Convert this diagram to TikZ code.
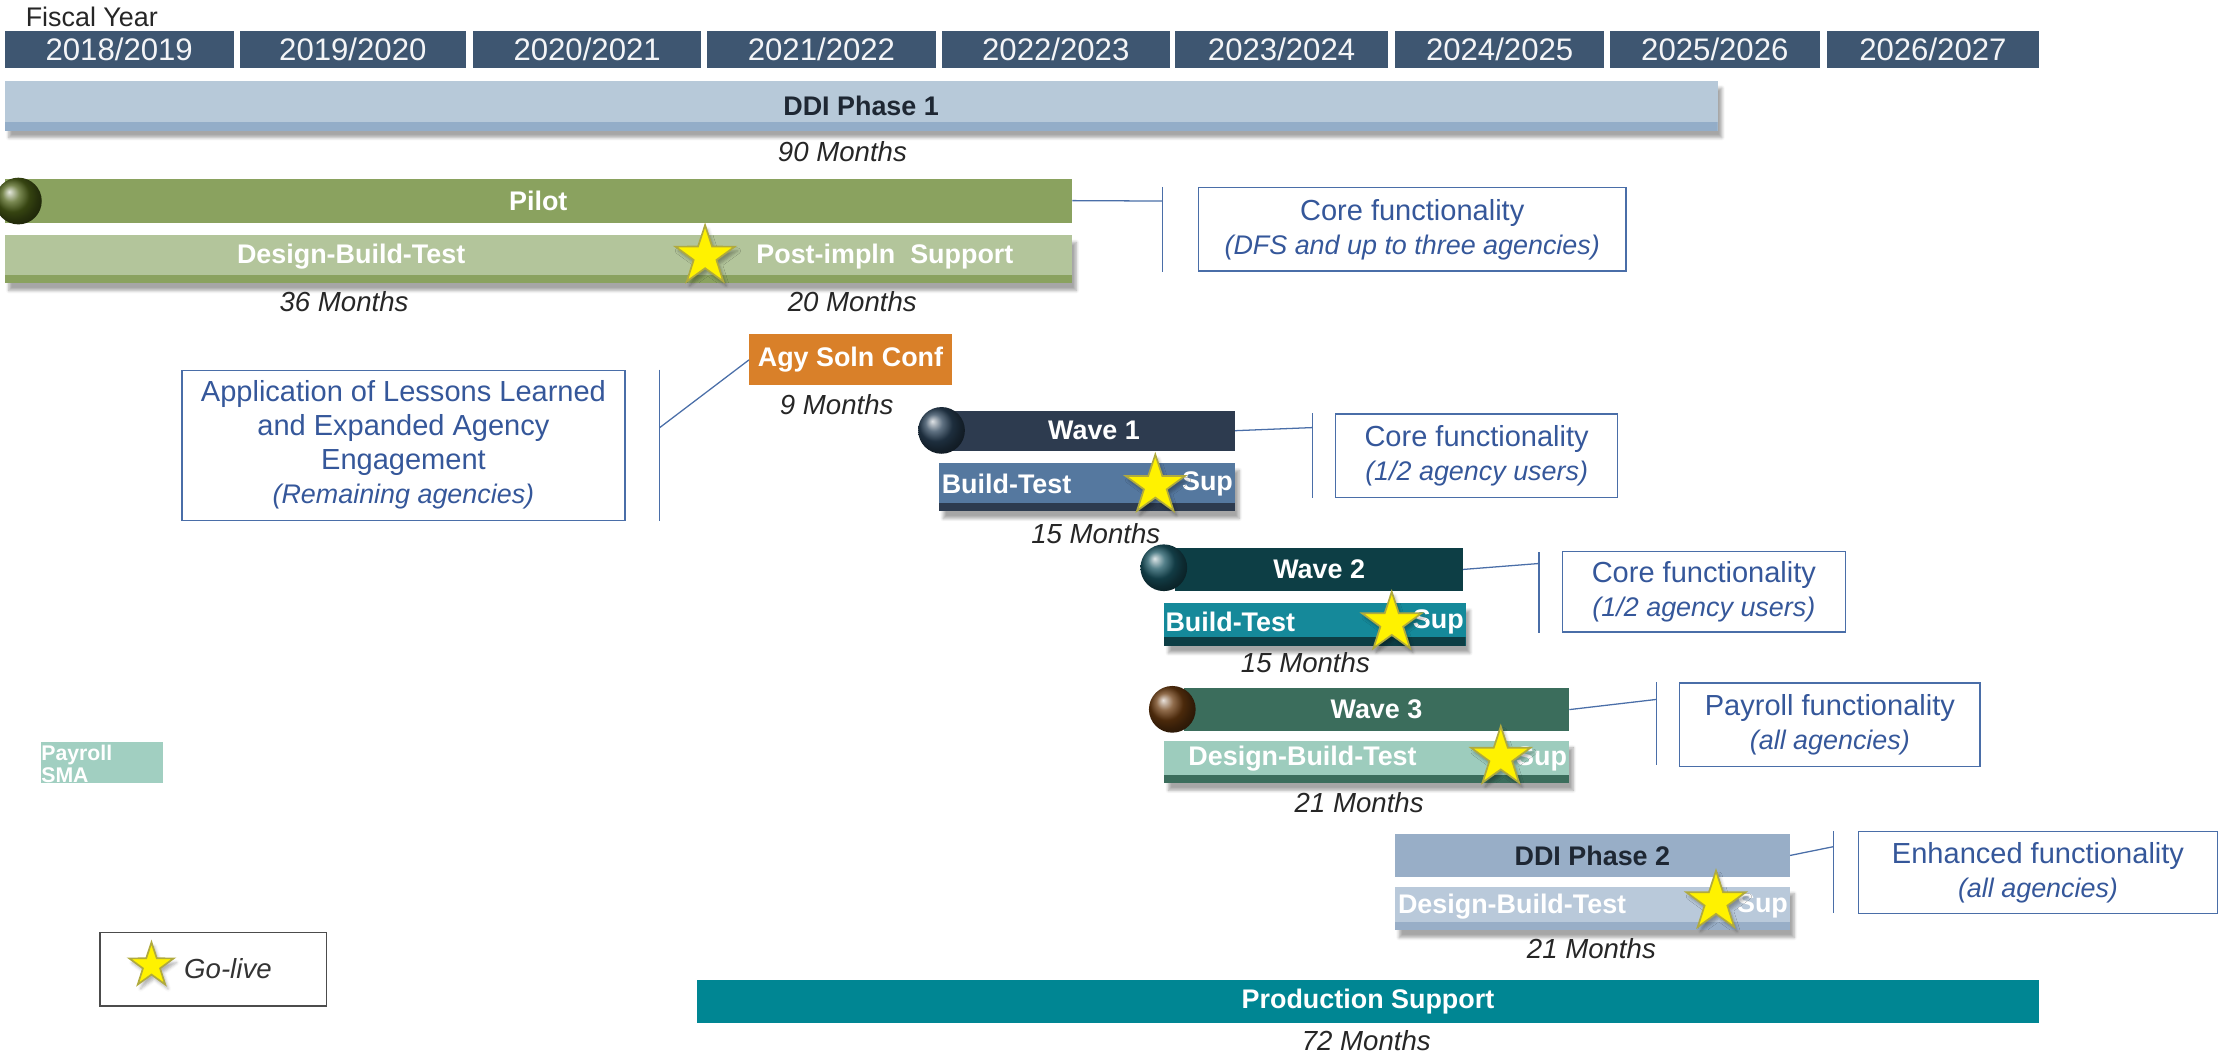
\documentclass[tikz,border=0pt]{standalone}
\usepackage{fontspec}
\setmainfont{Liberation Sans}
\usepackage{xcolor}
\usepackage{tikz}
\usetikzlibrary{positioning, shapes.geometric, shadows.blur}

\definecolor{yearblue}{HTML}{3E5671}
\definecolor{ddi}{HTML}{B7C9D9}
\definecolor{ddidark}{HTML}{93ADC8}
\definecolor{pilotgreen}{HTML}{8AA25F}
\definecolor{pilotball}{HTML}{4D6118}
\definecolor{pilotlight}{HTML}{B3C59B}
\definecolor{agyorange}{HTML}{D98029}
\definecolor{wdarkA}{HTML}{2D3B4F}
\definecolor{wballA}{HTML}{2A4258}
\definecolor{wmidA}{HTML}{55789F}
\definecolor{wdarkB}{HTML}{0D3E45}
\definecolor{wballB}{HTML}{1A5562}
\definecolor{wmidB}{HTML}{15899A}
\definecolor{wdarkC}{HTML}{3B6D5C}
\definecolor{wballC}{HTML}{6B3B10}
\definecolor{wmidC}{HTML}{9DCCBD}
\definecolor{ddiB}{HTML}{98AEC7}
\definecolor{ddiBlight}{HTML}{B9C9DA}
\definecolor{prodteal}{HTML}{008693}
\definecolor{payroll}{HTML}{A1CFC1}
\definecolor{noteblue}{HTML}{4A6EA8}
\definecolor{notetext}{HTML}{35579A}
\definecolor{darktxt}{HTML}{1E2733}

\newcommand{\subtxt}[1]{{\fontsize{19}{24}\selectfont\itshape #1}}

\tikzset{
	yearbox/.style={anchor=north west, inner sep=0pt, fill=yearblue, text=white!94!yearblue,
		minimum height=26, font=\fontsize{22}{22}\selectfont},
	tbar/.style={anchor=north west, inner sep=0pt, fill=#1, text=white,
		font=\fontsize{19}{19}\selectfont\bfseries},
	sbar/.style 2 args={tbar=#1,
		blur shadow={shadow xshift=3pt, shadow yshift=-5pt, shadow blur steps=6, shadow opacity=35},
		path picture={\fill[#2] ([yshift=6pt]path picture bounding box.south west)
			rectangle (path picture bounding box.south east);}},
	bartxt/.style={inner sep=1pt, text=white, font=\fontsize{19}{19}\selectfont\bfseries},
	orb/.style={circle, inner sep=0pt, minimum size=33, ball color=#1},
	gostar/.style={star, star points=5, star point ratio=2.6, inner sep=0pt, minimum size=44,
		fill=yellow, draw=yellow!65!black, line width=1.2pt,
		blur shadow={shadow xshift=2pt, shadow yshift=-3pt, shadow blur steps=4, shadow opacity=30}},
	months/.style={inner sep=0pt, text=black!85, font=\fontsize{19.5}{19.5}\selectfont\itshape},
	notebox/.style={anchor=north west, inner sep=0pt, draw=noteblue, line width=0.9pt,
		text=notetext, align=center, font=\fontsize{20.5}{24}\selectfont},
	bracket/.style={draw=noteblue, line width=0.9pt}
}

\begin{document}
\begin{tikzpicture}[x=1pt, y=-1pt]
	\useasboundingbox (0,0) rectangle (1568,743);
	
	% Fiscal year header
	\node[anchor=west, inner sep=0pt, text=black!85, font=\fontsize{19}{19}\selectfont] (fy) at (18,12) {Fiscal Year};
	\foreach \a/\b [count=\i from 0] in {3/165, 169/329, 334/495, 499/661, 665/826, 830/980, 985/1133, 1137/1285, 1290/1440}{
		\pgfmathtruncatemacro\ya{2018+\i}
		\pgfmathtruncatemacro\yb{2019+\i}
		\node[yearbox, minimum width={\b-\a}] (yr\i) at (\a,22) {\ya/\yb};
	}
	
	% DDI Phase 1
	\node[sbar={ddi}{ddidark}, text=darktxt, minimum width=1210, minimum height=35] (ddiA) at (3,57) {DDI Phase 1};
	\node[months] (mA) at (595,107) {90 Months};
	
	% Pilot
	\node[tbar=pilotgreen, minimum width=754, minimum height=31] (pilot) at (3,126) {Pilot};
	\node[orb=pilotball] (pball) at (13,142) {};
	\node[sbar={pilotlight}{pilotgreen}, minimum width=754, minimum height=34] (psub) at (3,166) {};
	\node[bartxt] (psubA) at (248,181) {Design-Build-Test};
	\node[bartxt] (psubB) at (625,181) {Post-impln\ \ Support};
	\node[gostar] (pstar) at (498,181) {};
	\node[months] (mB) at (243,213) {36 Months};
	\node[months] (mC) at (602,213) {20 Months};
	
	\node[notebox, minimum width=302, minimum height=59] (noteA) at (846,132)
		{Core functionality\\\subtxt{(DFS and up to three agencies)}};
	\coordinate (kAa) at (821,132);
	\coordinate (kAb) at (821,192);
	\coordinate (kA) at (821,142);
	\draw[bracket] (kAa) -- (kAb);
	\draw[bracket] (pilot.east) -- (kA);
	
	% Agency solution configuration
	\node[tbar=agyorange, minimum width=143, minimum height=36] (agy) at (529,236) {Agy Soln Conf};
	\node[months] (mD) at (591,286) {9 Months};
	\node[notebox, minimum width=313, minimum height=106] (noteB) at (128,261)
		{Application of Lessons Learned\\and Expanded Agency\\Engagement\\\subtxt{(Remaining agencies)}};
	\coordinate (kBa) at (466,261);
	\coordinate (kBb) at (466,368);
	\coordinate (kB) at (466,302);
	\draw[bracket] (kBa) -- (kBb);
	\draw[bracket] (kB) -- (agy.west);
	
	% Wave 1
	\node[tbar=wdarkA, minimum width=199, minimum height=28] (wA) at (673,290) {Wave 1};
	\node[orb=wballA] (wAball) at (665,304) {};
	\node[sbar={wmidA}{wdarkA}, minimum width=209, minimum height=34] (wAsub) at (663,327) {};
	\node[bartxt, anchor=west] (wAsubA) at (664,342) {Build-Test};
	\node[bartxt, anchor=east] (wAsubB) at (872,342) {Sup};
	\node[gostar] (wAstar) at (816,343) {};
	\node[months] (mE) at (774,377) {15 Months};
	\node[notebox, minimum width=199, minimum height=59] (noteC) at (943,292)
		{Core functionality\\\subtxt{(1/2 agency users)}};
	\coordinate (kCa) at (927,292);
	\coordinate (kCb) at (927,352);
	\coordinate (kC) at (927,302);
	\draw[bracket] (kCa) -- (kCb);
	\draw[bracket] (wA.east) -- (kC);
	
	% Wave 2
	\node[tbar=wdarkB, minimum width=203, minimum height=30] (wB) at (830,387) {Wave 2};
	\node[orb=wballB] (wBball) at (822,401) {};
	\node[sbar={wmidB}{wdarkB}, minimum width=213, minimum height=30] (wBsub) at (822,426) {};
	\node[bartxt, anchor=west] (wBsubA) at (822,439) {Build-Test};
	\node[bartxt, anchor=east] (wBsubB) at (1035,439) {Sup};
	\node[gostar] (wBstar) at (983,440) {};
	\node[months] (mF) at (922,468) {15 Months};
	\node[notebox, minimum width=200, minimum height=57] (noteD) at (1103,389)
		{Core functionality\\\subtxt{(1/2 agency users)}};
	\coordinate (kDa) at (1087,390);
	\coordinate (kDb) at (1087,447);
	\coordinate (kD) at (1087,398);
	\draw[bracket] (kDa) -- (kDb);
	\draw[bracket] (wB.east) -- (kD);
	
	% Wave 3
	\node[tbar=wdarkC, minimum width=272, minimum height=30] (wC) at (836,486) {Wave 3};
	\node[orb=wballC] (wCball) at (828,501) {};
	\node[sbar={wmidC}{wdarkC}, minimum width=286, minimum height=30] (wCsub) at (822,523) {};
	\node[bartxt] (wCsubA) at (920,536) {Design-Build-Test};
	\node[bartxt, anchor=east] (wCsubB) at (1108,536) {Sup};
	\node[gostar] (wCstar) at (1060,535) {};
	\node[months] (mG) at (960,567) {21 Months};
	\node[notebox, minimum width=212, minimum height=59] (noteE) at (1186,482)
		{Payroll functionality\\\subtxt{(all agencies)}};
	\coordinate (kEa) at (1170,482);
	\coordinate (kEb) at (1170,540);
	\coordinate (kE) at (1170,494);
	\draw[bracket] (kEa) -- (kEb);
	\draw[bracket] (wC.east) -- (kE);
	
	% DDI Phase 2
	\node[tbar=ddiB, text=darktxt, minimum width=279, minimum height=30] (ddiB) at (985,589) {DDI Phase 2};
	\node[sbar={ddiBlight}{ddiB}, minimum width=279, minimum height=31] (ddiBsub) at (985,626) {};
	\node[bartxt] (ddiBsubA) at (1068,640) {Design-Build-Test};
	\node[bartxt, anchor=east] (ddiBsubB) at (1264,640) {Sup};
	\node[gostar] (ddiBstar) at (1212,637) {};
	\node[months] (mH) at (1124,670) {21 Months};
	\node[notebox, minimum width=254, minimum height=58] (noteF) at (1312,587)
		{Enhanced functionality\\\subtxt{(all agencies)}};
	\coordinate (kFa) at (1295,587);
	\coordinate (kFb) at (1295,645);
	\coordinate (kF) at (1295,598);
	\draw[bracket] (kFa) -- (kFb);
	\draw[bracket] (ddiB.east) -- (kF);
	
	% Payroll SMA (text cut by its box)
	\begin{scope}
		\clip (29,524) rectangle (115,553);
		\node[anchor=north west, inner sep=0pt, fill=payroll, minimum width=86, minimum height=29] (sma) at (29,524) {};
		\node[anchor=north west, inner sep=0pt, align=left, text=white,
			font=\fontsize{15}{15.5}\selectfont\bfseries] (smatxt) at (29,526) {Payroll\\SMA};
	\end{scope}
	
	% Legend
	\node[anchor=north west, inner sep=0pt, draw=black!70, line width=1pt, minimum width=160, minimum height=52] (legend) at (70,658) {};
	\node[gostar, minimum size=33] (lstar) at (107,682) {};
	\node[months, text=black!80] (ltxt) at (161,684) {Go-live};
	
	% Production support
	\node[tbar=prodteal, minimum width=948, minimum height=30] (prod) at (492,692) {Production Support};
	\node[months] (mI) at (965,735) {72 Months};
	
\end{tikzpicture}
\end{document}
